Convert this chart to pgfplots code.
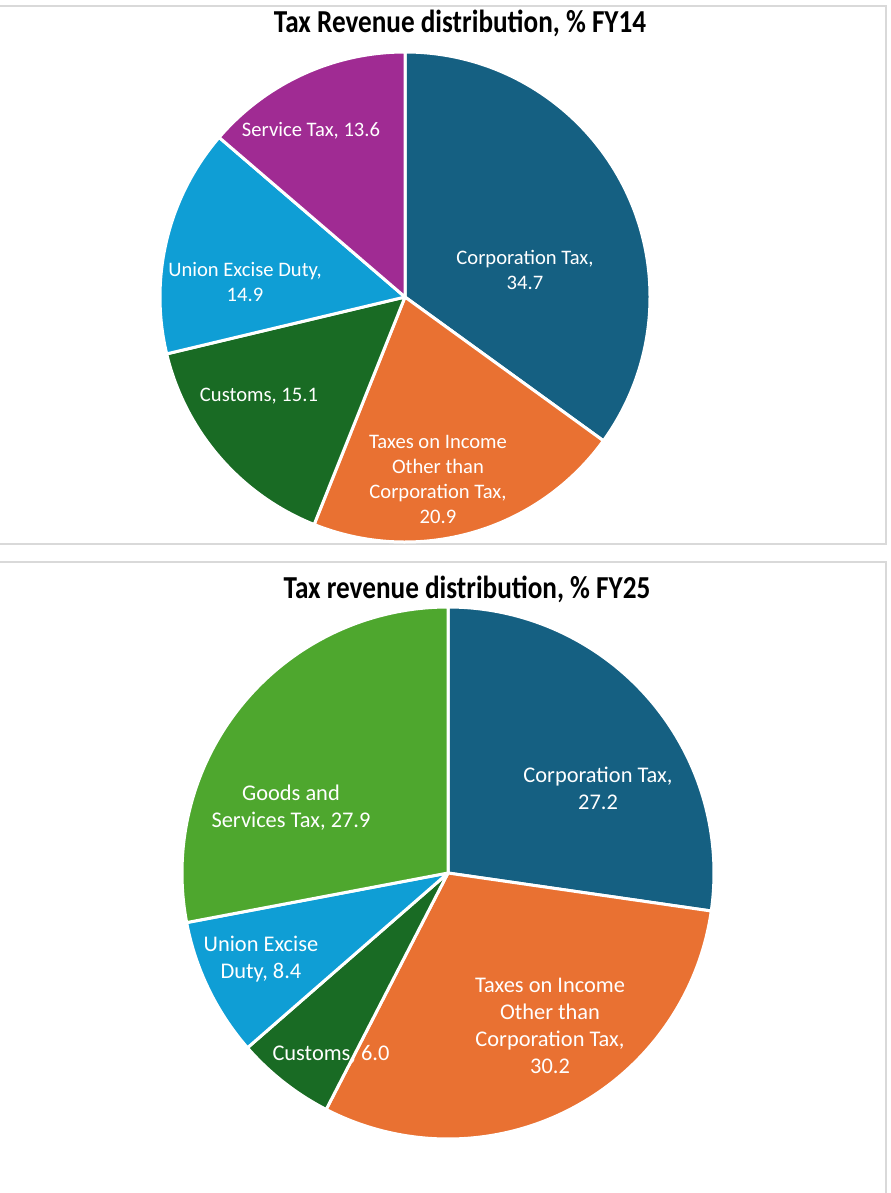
\documentclass[border=0pt]{standalone}
\usepackage{pgfplots}
\pgfplotsset{compat=1.18}
\usepackage{pgfplotstable}
\usepackage{fontspec}
\setmainfont{Carlito}
\newfontfamily\titlefont[FakeStretch=0.85]{Carlito}

\definecolor{ctax}{HTML}{156082}
\definecolor{corange}{HTML}{E97132}
\definecolor{cgreen}{HTML}{196B24}
\definecolor{cblue}{HTML}{0F9ED5}
\definecolor{cpurple}{HTML}{A02B93}
\definecolor{clgreen}{HTML}{4EA72E}

% FY14 shares, clockwise from 12 o'clock
\pgfplotstableread{
name    value color
corp    34.7  ctax
income  20.9  corange
customs 15.1  cgreen
excise  14.9  cblue
service 13.6  cpurple
}\fyfourteen

% FY25 shares
\pgfplotstableread{
name    value color
corp    27.2  ctax
income  30.2  corange
customs 6.0   cgreen
excise  8.4   cblue
gst     27.9  clgreen
}\fytwentyfive

% #1 table, #2 radius (axis units = px)
\newcommand\drawpie[2]{%
  \pgfplotstablegetrowsof{#1}\edef\nrows{\pgfplotsretval}%
  \def\tot{0}%
  \pgfplotsforeachungrouped \i in {1,...,\nrows}{%
    \pgfmathtruncatemacro\k{\i-1}%
    \pgfplotstablegetelem{\k}{value}\of{#1}%
    \pgfmathsetmacro\tot{\tot+\pgfplotsretval}}%
  \def\angA{90}%
  \pgfplotsforeachungrouped \i in {1,...,\nrows}{%
    \pgfmathtruncatemacro\k{\i-1}%
    \pgfplotstablegetelem{\k}{value}\of{#1}%
    \pgfmathsetmacro\angB{\angA-360*\pgfplotsretval/\tot}%
    \pgfplotstablegetelem{\k}{color}\of{#1}%
    \edef\col{\pgfplotsretval}%
    \pgfmathsetmacro\sx{#2*cos(\angA)}%
    \pgfmathsetmacro\sy{#2*sin(\angA)}%
    \edef\temp{\noexpand\filldraw[fill=\col, draw=white, line width=1.5pt, line join=round]
      (axis cs:0,0) -- (axis cs:\sx,\sy) arc[start angle=\angA, end angle=\angB, radius=#2*0.5pt] -- cycle;}%
    \temp
    \global\let\angA\angB}%
}

\newcommand\labA{\fontsize{10.3}{12.5}\selectfont}
\newcommand\labB{\fontsize{11.2}{13.5}\selectfont}
\newcommand\ttl{\titlefont\bfseries\fontsize{16}{19}\selectfont}

\begin{document}
\begin{tikzpicture}[x=0.5pt, y=-0.5pt]
\useasboundingbox (0,0) rectangle (890,1193);
\draw[black!15, line width=1pt] (-5,6) rectangle (886,544);
\draw[black!15, line width=1pt] (-5,562) rectangle (886,1220);

\begin{axis}[at={(202.5pt,-148.5pt)}, anchor=origin, x=0.5pt, y=0.5pt,
    xmin=-250, xmax=250, ymin=-250, ymax=250, hide axis, clip=false]
\drawpie{\fyfourteen}{245}
\end{axis}

\begin{axis}[at={(224pt,-436.5pt)}, anchor=origin, x=0.5pt, y=0.5pt,
    xmin=-270, xmax=270, ymin=-270, ymax=270, hide axis, clip=false]
\drawpie{\fytwentyfive}{266}
\end{axis}

\node at (460,23) {\ttl Tax Revenue distribution, \% FY14};
\node at (467,589) {\ttl Tax revenue distribution, \% FY25};

\begin{scope}[every node/.style={text=white, align=center, inner sep=0pt}]
\node[font=\labA] at (525,270) {Corporation Tax,\\34.7};
\node[font=\labA] at (438,479) {Taxes on Income\\Other than\\Corporation Tax,\\20.9};
\node[font=\labA] at (259,396) {Customs, 15.1};
\node[font=\labA] at (245,282) {Union Excise Duty,\\14.9};
\node[font=\labA] at (311,131) {Service Tax, 13.6};

\node[font=\labB] at (598,788) {Corporation Tax,\\27.2};
\node[font=\labB] at (291,808) {Goods and\\Services Tax, 27.9};
\node[font=\labB] at (261,959) {Union Excise\\Duty, 8.4};
\node[font=\labB] at (331,1054) {Customs, 6.0};
\node[font=\labB] at (550,1026) {Taxes on Income\\Other than\\Corporation Tax,\\30.2};
\end{scope}
\end{tikzpicture}
\end{document}
